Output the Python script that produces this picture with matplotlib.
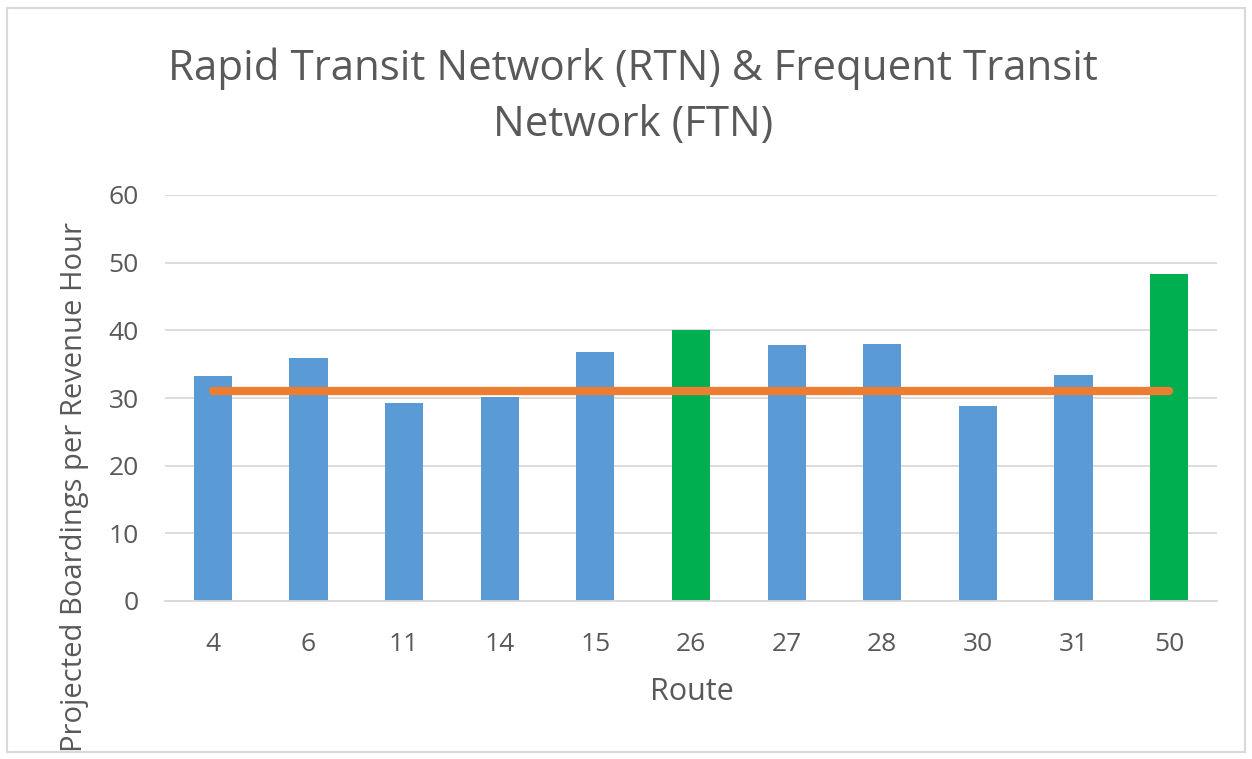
import matplotlib
matplotlib.use("Agg")
import matplotlib.pyplot as plt
from matplotlib.patches import Rectangle

routes = ["4", "6", "11", "14", "15", "26", "27", "28", "30", "31", "50"]
boardings = [33.2, 35.9, 29.3, 30.2, 36.8, 40.0, 37.8, 38.05, 28.8, 33.4, 48.3]
network = ["FTN", "FTN", "FTN", "FTN", "FTN", "RTN", "FTN", "FTN", "FTN", "FTN", "RTN"]
average = [31.1] * len(routes)
yticks = [0, 10, 20, 30, 40, 50, 60]

colors = {"FTN": "#5B9BD5", "RTN": "#00B050"}
text_color = "#595959"
plt.rcParams["font.family"] = ["Open Sans", "DejaVu Sans"]

W, H = 1252, 759
fig = plt.figure(figsize=(W / 100, H / 100), dpi=100)
ax = fig.add_axes([165 / W, 1 - 601 / H, (1217 - 165) / W, (601 - 195) / H])

x = list(range(len(routes)))
ax.bar(x, boardings, width=0.4, color=[colors[n] for n in network], zorder=2)
ax.plot(x, average, color="#ED7D31", lw=6, solid_capstyle="round", zorder=3)

ax.set_xlim(-0.5, len(routes) - 0.5)
ax.set_ylim(0, 60)
ax.set_yticks(yticks)
ax.set_xticks(x)
ax.set_xticklabels(routes)
ax.tick_params(axis="both", length=0, labelsize=19, colors=text_color)
ax.tick_params(axis="x", pad=22)
ax.tick_params(axis="y", pad=19)
ax.grid(axis="y", color="#D9D9D9", lw=1.3, zorder=0)
for s in ["top", "right", "left"]:
    ax.spines[s].set_visible(False)
ax.spines["bottom"].set_color("#D9D9D9")
ax.spines["bottom"].set_linewidth(1.3)

fig.text(692 / W, 1 - 692 / H, "Route", ha="center", va="center", fontsize=22, color=text_color)
fig.text(75 / W, 1 - 487 / H, "Projected Boardings per Revenue Hour", ha="center", va="center",
         rotation=90, fontsize=21, color=text_color)
fig.text(633 / W, 1 - 97 / H, "Rapid Transit Network (RTN) & Frequent Transit\nNetwork (FTN)",
         ha="center", va="center", fontsize=30.3, color=text_color, linespacing=1.45)

fig.patches.append(Rectangle((7 / W, 7 / H), 1 - 14 / W, 1 - 15 / H, transform=fig.transFigure,
                             fill=False, edgecolor="#D9D9D9", lw=1.5))
fig.savefig("out.png", dpi=100, facecolor="white")
